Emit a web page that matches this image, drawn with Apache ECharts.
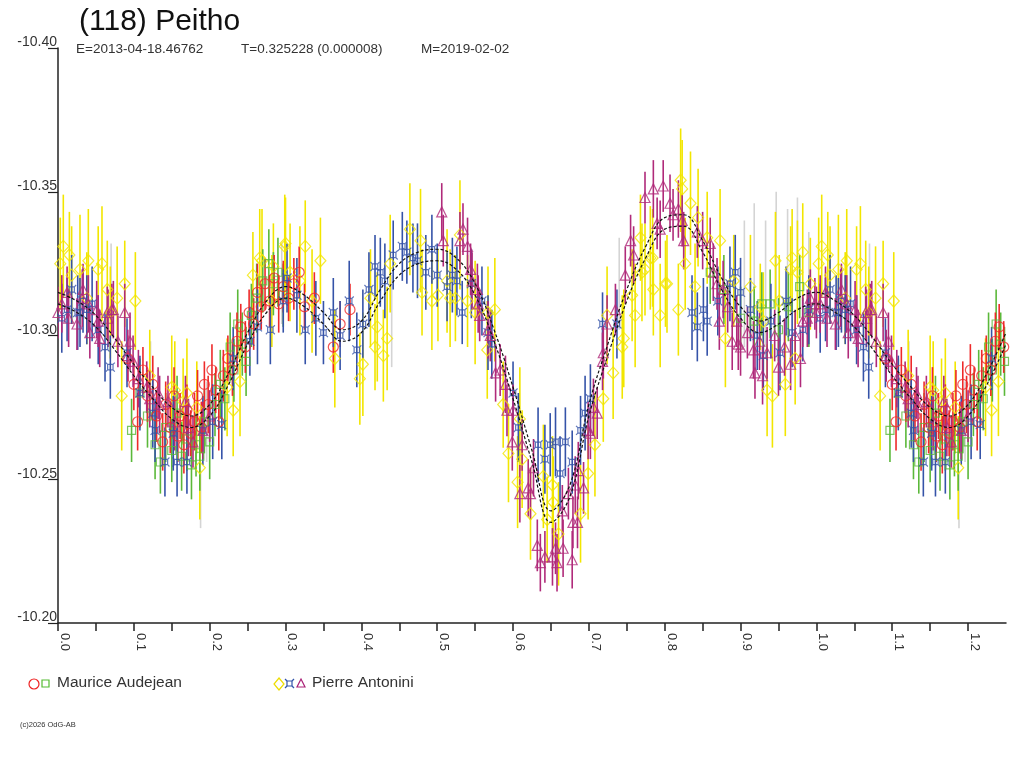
<!DOCTYPE html>
<html>
<head>
<meta charset="utf-8">
<title>(118) Peitho</title>
<script src="https://cdn.jsdelivr.net/npm/echarts/dist/echarts.min.js"></script>
<style>
  html, body { margin: 0; padding: 0; background: #fff; }
  #chart { width: 1024px; height: 768px; }
</style>
</head>
<body>
<div id="chart"></div>
<script>
// [phase, magnitude, error]
var audejeanCircles = [
  [0.092,-10.292,0.008],[0.100,-10.283,0.009],[0.105,-10.270,0.010],[0.112,-10.288,0.008],[0.118,-10.279,0.009],
  [0.125,-10.283,0.010],[0.130,-10.272,0.009],[0.138,-10.263,0.010],[0.142,-10.276,0.008],[0.148,-10.268,0.009],
  [0.153,-10.279,0.010],[0.158,-10.265,0.009],[0.161,-10.272,0.008],[0.166,-10.262,0.010],[0.170,-10.274,0.009],
  [0.175,-10.266,0.008],[0.180,-10.270,0.010],[0.184,-10.279,0.009],[0.189,-10.268,0.009],[0.193,-10.283,0.008],
  [0.198,-10.276,0.010],[0.203,-10.288,0.009],[0.208,-10.281,0.008],[0.212,-10.270,0.010],[0.218,-10.286,0.009],
  [0.224,-10.292,0.008],[0.230,-10.288,0.009],[0.236,-10.298,0.010],[0.241,-10.303,0.008],[0.247,-10.296,0.009],
  [0.252,-10.308,0.008],[0.258,-10.304,0.009],[0.263,-10.315,0.010],[0.268,-10.310,0.008],[0.273,-10.318,0.009],
  [0.279,-10.312,0.009],[0.285,-10.320,0.008],[0.291,-10.311,0.010],[0.297,-10.317,0.009],[0.304,-10.313,0.008],
  [0.311,-10.318,0.009],[0.318,-10.322,0.009],[0.325,-10.310,0.008],[0.338,-10.313,0.009],[0.363,-10.296,0.009],
  [0.372,-10.304,0.008],[0.385,-10.309,0.009]
];
var audejeanSquares = [
  [0.097,-10.267,0.011],[0.108,-10.280,0.012],[0.118,-10.272,0.011],[0.128,-10.262,0.012],[0.135,-10.256,0.011],
  [0.142,-10.268,0.012],[0.150,-10.260,0.011],[0.157,-10.273,0.013],[0.163,-10.258,0.012],[0.170,-10.264,0.011],
  [0.176,-10.255,0.012],[0.182,-10.262,0.011],[0.187,-10.258,0.012],[0.193,-10.270,0.011],[0.200,-10.263,0.013],
  [0.207,-10.276,0.011],[0.214,-10.283,0.012],[0.220,-10.278,0.011],[0.227,-10.296,0.012],[0.232,-10.288,0.011],
  [0.237,-10.304,0.012],[0.243,-10.297,0.011],[0.248,-10.291,0.012],[0.255,-10.307,0.011],[0.262,-10.313,0.012],
  [0.270,-10.319,0.011],[0.278,-10.325,0.012],[0.284,-10.318,0.011],[0.290,-10.322,0.012],[0.297,-10.314,0.011],
  [0.860,-10.322,0.011],[0.878,-10.316,0.012],[0.900,-10.306,0.011],[0.918,-10.305,0.012],[0.928,-10.311,0.011],
  [0.939,-10.311,0.012],[0.950,-10.302,0.011],[0.963,-10.310,0.012],[0.978,-10.317,0.011],[0.990,-10.308,0.012]
];
var antoniniDiamonds = [
  [0.003,-10.325,0.016],[0.007,-10.331,0.018],[0.015,-10.328,0.015],[0.018,-10.321,0.017],[0.029,-10.323,0.019],
  [0.038,-10.313,0.016],[0.040,-10.326,0.018],[0.053,-10.323,0.015],[0.058,-10.325,0.020],[0.065,-10.316,0.017],
  [0.069,-10.308,0.016],[0.078,-10.313,0.018],[0.084,-10.279,0.019],[0.088,-10.318,0.015],[0.102,-10.312,0.017],
  [0.121,-10.286,0.016],[0.150,-10.282,0.018],[0.154,-10.281,0.017],[0.165,-10.277,0.015],[0.170,-10.280,0.019],
  [0.183,-10.275,0.016],[0.187,-10.254,0.018],[0.223,-10.282,0.017],[0.231,-10.274,0.016],[0.240,-10.284,0.019],
  [0.257,-10.321,0.015],[0.266,-10.327,0.017],[0.269,-10.326,0.018],[0.282,-10.312,0.016],[0.284,-10.324,0.015],
  [0.299,-10.331,0.018],[0.300,-10.332,0.016],[0.306,-10.322,0.017],[0.319,-10.319,0.019],[0.326,-10.331,0.016],
  [0.335,-10.312,0.018],[0.346,-10.326,0.015],[0.365,-10.292,0.017],[0.398,-10.285,0.016],[0.402,-10.290,0.018],
  [0.412,-10.313,0.017],[0.418,-10.296,0.015],[0.421,-10.303,0.019],[0.429,-10.293,0.016],[0.434,-10.299,0.018],
  [0.438,-10.325,0.017],[0.464,-10.337,0.016],[0.478,-10.333,0.018],[0.480,-10.315,0.015],[0.493,-10.312,0.017],
  [0.501,-10.314,0.016],[0.513,-10.319,0.018],[0.517,-10.313,0.017],[0.524,-10.313,0.015],[0.530,-10.335,0.019],
  [0.540,-10.312,0.016],[0.550,-10.308,0.018],[0.566,-10.295,0.017],[0.567,-10.308,0.016],[0.576,-10.309,0.018],
  [0.587,-10.276,0.015],[0.594,-10.259,0.017],[0.606,-10.249,0.016],[0.609,-10.271,0.018],[0.612,-10.257,0.017],
  [0.623,-10.238,0.016],[0.640,-10.251,0.018],[0.645,-10.236,0.015],[0.652,-10.248,0.017],[0.653,-10.242,0.016],
  [0.660,-10.231,0.018],[0.689,-10.238,0.017],[0.699,-10.252,0.016],[0.708,-10.262,0.018],[0.719,-10.278,0.015],
  [0.724,-10.307,0.017],[0.732,-10.287,0.016],[0.744,-10.296,0.018],[0.746,-10.299,0.017],[0.757,-10.314,0.016],
  [0.761,-10.307,0.018],[0.768,-10.334,0.015],[0.770,-10.322,0.017],[0.774,-10.323,0.016],[0.781,-10.327,0.018],
  [0.784,-10.327,0.017],[0.785,-10.316,0.016],[0.794,-10.307,0.018],[0.801,-10.318,0.015],[0.803,-10.318,0.017],
  [0.818,-10.309,0.016],[0.821,-10.354,0.018],[0.823,-10.351,0.017],[0.827,-10.325,0.016],[0.834,-10.346,0.018],
  [0.840,-10.317,0.015],[0.844,-10.341,0.017],[0.856,-10.334,0.016],[0.873,-10.333,0.018],[0.880,-10.299,0.017],
  [0.891,-10.319,0.016],[0.913,-10.317,0.018],[0.926,-10.310,0.015],[0.930,-10.305,0.017],[0.935,-10.281,0.016],
  [0.942,-10.279,0.018],[0.946,-10.326,0.017],[0.951,-10.312,0.016],[0.959,-10.283,0.018],[0.966,-10.323,0.015],
  [0.968,-10.327,0.017],[0.972,-10.292,0.016],[0.975,-10.322,0.018],[0.982,-10.329,0.017],[0.992,-10.318,0.016]
];
var antoniniCrossed = [
  [0.005,-10.306,0.012],[0.012,-10.309,0.011],[0.018,-10.316,0.012],[0.026,-10.308,0.013],[0.029,-10.308,0.012],
  [0.033,-10.312,0.011],[0.038,-10.309,0.012],[0.045,-10.311,0.013],[0.053,-10.302,0.012],[0.062,-10.296,0.012],
  [0.069,-10.289,0.011],[0.091,-10.294,0.012],[0.108,-10.280,0.013],[0.125,-10.273,0.012],[0.128,-10.267,0.011],
  [0.141,-10.256,0.012],[0.152,-10.266,0.013],[0.157,-10.256,0.012],[0.170,-10.256,0.011],[0.191,-10.267,0.012],
  [0.204,-10.270,0.013],[0.216,-10.269,0.012],[0.231,-10.292,0.011],[0.253,-10.298,0.012],[0.263,-10.303,0.013],
  [0.280,-10.302,0.012],[0.297,-10.312,0.011],[0.302,-10.320,0.012],[0.315,-10.314,0.013],[0.326,-10.302,0.012],
  [0.340,-10.306,0.013],[0.350,-10.301,0.011],[0.363,-10.308,0.012],[0.372,-10.300,0.012],[0.384,-10.312,0.014],
  [0.394,-10.295,0.013],[0.402,-10.304,0.012],[0.410,-10.316,0.013],[0.418,-10.324,0.011],[0.425,-10.322,0.012],
  [0.431,-10.319,0.013],[0.442,-10.328,0.012],[0.454,-10.331,0.012],[0.460,-10.329,0.011],[0.468,-10.327,0.012],
  [0.474,-10.326,0.013],[0.485,-10.322,0.013],[0.493,-10.330,0.012],[0.500,-10.321,0.011],[0.513,-10.317,0.012],
  [0.520,-10.321,0.013],[0.526,-10.319,0.012],[0.533,-10.308,0.011],[0.545,-10.318,0.012],[0.559,-10.312,0.012],
  [0.567,-10.301,0.013],[0.572,-10.297,0.012],[0.600,-10.280,0.011],[0.607,-10.268,0.012],[0.633,-10.262,0.013],
  [0.642,-10.257,0.012],[0.649,-10.262,0.011],[0.656,-10.263,0.012],[0.662,-10.252,0.013],[0.669,-10.263,0.012],
  [0.678,-10.256,0.011],[0.689,-10.267,0.012],[0.695,-10.273,0.013],[0.702,-10.278,0.012],[0.718,-10.304,0.011],
  [0.737,-10.304,0.012],[0.836,-10.308,0.013],[0.843,-10.303,0.012],[0.851,-10.309,0.011],[0.856,-10.305,0.012],
  [0.870,-10.312,0.012],[0.886,-10.318,0.013],[0.893,-10.322,0.013],[0.900,-10.315,0.012],[0.913,-10.309,0.011],
  [0.922,-10.300,0.012],[0.930,-10.293,0.012],[0.940,-10.305,0.013],[0.952,-10.294,0.013],[0.960,-10.312,0.012],
  [0.968,-10.301,0.012],[0.982,-10.302,0.011],[0.990,-10.309,0.012]
];
var antoniniTriangles = [
  [0.000,-10.308,0.009],[0.005,-10.311,0.010],[0.012,-10.315,0.009],[0.014,-10.306,0.010],[0.025,-10.304,0.009],
  [0.032,-10.313,0.010],[0.033,-10.316,0.009],[0.040,-10.311,0.010],[0.042,-10.301,0.009],[0.051,-10.309,0.010],
  [0.053,-10.305,0.009],[0.055,-10.299,0.010],[0.065,-10.308,0.009],[0.066,-10.306,0.010],[0.071,-10.309,0.009],
  [0.073,-10.309,0.010],[0.079,-10.298,0.009],[0.088,-10.308,0.010],[0.092,-10.293,0.009],[0.095,-10.298,0.010],
  [0.099,-10.291,0.009],[0.106,-10.285,0.010],[0.117,-10.282,0.009],[0.121,-10.278,0.010],[0.132,-10.280,0.009],
  [0.134,-10.276,0.010],[0.145,-10.277,0.009],[0.154,-10.270,0.010],[0.168,-10.277,0.009],[0.172,-10.268,0.010],
  [0.178,-10.263,0.009],[0.191,-10.267,0.010],[0.200,-10.272,0.009],
  [0.506,-10.343,0.010],[0.508,-10.333,0.009],[0.530,-10.333,0.010],[0.534,-10.337,0.009],[0.540,-10.331,0.010],
  [0.544,-10.323,0.009],[0.546,-10.319,0.010],[0.553,-10.316,0.009],[0.554,-10.311,0.010],[0.556,-10.307,0.009],
  [0.567,-10.302,0.010],[0.570,-10.300,0.009],[0.577,-10.287,0.010],[0.583,-10.288,0.009],[0.590,-10.283,0.010],
  [0.592,-10.274,0.009],[0.599,-10.263,0.010],[0.600,-10.274,0.009],[0.609,-10.245,0.010],[0.612,-10.262,0.009],
  [0.620,-10.247,0.010],[0.623,-10.245,0.009],[0.627,-10.254,0.010],[0.632,-10.227,0.009],[0.636,-10.221,0.010],
  [0.642,-10.223,0.009],[0.652,-10.223,0.010],[0.656,-10.226,0.009],[0.658,-10.221,0.010],[0.665,-10.239,0.009],
  [0.666,-10.226,0.010],[0.673,-10.245,0.009],[0.678,-10.222,0.010],[0.679,-10.235,0.009],[0.682,-10.248,0.010],
  [0.685,-10.235,0.009],[0.686,-10.253,0.010],[0.693,-10.247,0.009],[0.699,-10.267,0.010],[0.702,-10.266,0.009],
  [0.706,-10.275,0.010],[0.711,-10.273,0.009],[0.718,-10.291,0.010],[0.719,-10.294,0.009],[0.724,-10.304,0.010],
  [0.735,-10.309,0.009],[0.748,-10.321,0.010],[0.755,-10.333,0.009],[0.759,-10.328,0.010],[0.774,-10.348,0.009],
  [0.785,-10.351,0.010],[0.790,-10.339,0.009],[0.794,-10.337,0.010],[0.798,-10.352,0.009],[0.807,-10.346,0.010],
  [0.811,-10.342,0.009],[0.818,-10.344,0.010],[0.823,-10.340,0.009],[0.825,-10.333,0.010],[0.843,-10.336,0.009],
  [0.850,-10.333,0.010],[0.860,-10.332,0.009],[0.864,-10.322,0.010],[0.869,-10.318,0.009],[0.872,-10.305,0.010],
  [0.877,-10.316,0.010],[0.883,-10.310,0.009],[0.889,-10.298,0.010],[0.895,-10.305,0.009],[0.897,-10.297,0.009],
  [0.900,-10.296,0.010],[0.909,-10.301,0.009],[0.917,-10.295,0.010],[0.919,-10.287,0.009],[0.925,-10.298,0.010],
  [0.929,-10.286,0.010],[0.935,-10.294,0.009],[0.945,-10.300,0.009],[0.950,-10.289,0.010],[0.958,-10.296,0.010],
  [0.966,-10.290,0.009],[0.972,-10.300,0.009],[0.979,-10.292,0.010],[0.982,-10.305,0.009],[0.988,-10.306,0.010],
  [0.992,-10.313,0.010],[0.998,-10.311,0.009]
];
var otherObs = [
  [0.070,-10.318,0.014],[0.122,-10.286,0.012],[0.188,-10.243,0.010],[0.196,-10.270,0.014],[0.295,-10.318,0.014],
  [0.440,-10.305,0.016],[0.740,-10.318,0.016],[0.905,-10.318,0.022],[0.918,-10.326,0.020],[0.933,-10.318,0.022],
  [0.947,-10.330,0.020],[0.962,-10.322,0.022],[0.975,-10.330,0.018],[0.990,-10.316,0.020]
];

// fitted light curve, upper and lower envelope
var fitPhase = [0,0.025,0.05,0.075,0.1,0.125,0.15,0.175,0.2,0.225,0.25,0.275,0.3,0.325,0.35,0.375,0.4,0.425,0.45,0.475,
  0.5,0.525,0.55,0.575,0.6,0.625,0.65,0.675,0.7,0.725,0.75,0.775,0.8,0.825,0.85,0.875,0.9,0.925,0.95,0.975,
  1.0,1.025,1.05,1.075,1.1,1.125,1.15,1.175,1.2,1.225,1.25];
var fitUpper = [-10.315,-10.312,-10.307,-10.299,-10.290,-10.282,-10.275,-10.272,-10.276,-10.287,-10.301,-10.312,-10.317,-10.314,-10.308,-10.302,-10.305,-10.316,-10.325,-10.329,
  -10.330,-10.327,-10.318,-10.302,-10.282,-10.260,-10.239,-10.248,-10.276,-10.297,-10.316,-10.331,-10.341,-10.342,-10.333,-10.320,-10.310,-10.305,-10.308,-10.313,
  -10.315,-10.312,-10.307,-10.299,-10.290,-10.282,-10.275,-10.272,-10.276,-10.287,-10.301];
var fitLower = [-10.311,-10.308,-10.303,-10.295,-10.286,-10.278,-10.271,-10.268,-10.272,-10.283,-10.297,-10.308,-10.313,-10.310,-10.304,-10.298,-10.301,-10.312,-10.321,-10.325,
  -10.326,-10.323,-10.314,-10.298,-10.278,-10.256,-10.235,-10.244,-10.272,-10.293,-10.312,-10.327,-10.337,-10.338,-10.329,-10.316,-10.306,-10.301,-10.304,-10.309,
  -10.311,-10.308,-10.303,-10.295,-10.286,-10.278,-10.271,-10.268,-10.272,-10.283,-10.297];

var magTicks = [-10.40, -10.35, -10.30, -10.25, -10.20];

// phases up to 0.25 are shown a second time after 1.0
function wrap(arr) {
  var out = arr.slice();
  arr.forEach(function (d) {
    if (d[0] <= 0.25) out.push([d[0] + 1, d[1], d[2]]);
  });
  return out;
}

var font = 'Liberation Sans, Arial, sans-serif';

function errBars(data, color) {
  return {
    type: 'custom',
    silent: true,
    clip: true,
    data: wrap(data),
    encode: { x: 0, y: 1 },
    renderItem: function (params, api) {
      var x = api.value(0), y = api.value(1), e = api.value(2);
      var a = api.coord([x, y - e]);
      var b = api.coord([x, y + e]);
      return {
        type: 'line',
        shape: { x1: a[0], y1: a[1], x2: b[0], y2: b[1] },
        style: { stroke: color, lineWidth: 1.6 }
      };
    }
  };
}

function marks(data, color, symbol, size) {
  return {
    type: 'scatter',
    silent: true,
    data: wrap(data),
    symbol: symbol,
    symbolSize: size,
    itemStyle: { color: 'rgba(0,0,0,0)', borderColor: color, borderWidth: 1.2 }
  };
}

function fitLine(ys) {
  return {
    type: 'line',
    silent: true,
    smooth: 0.4,
    showSymbol: false,
    data: fitPhase.map(function (p, i) { return [p, ys[i]]; }),
    lineStyle: { color: '#111', width: 1.2, type: [3, 2] },
    z: 5
  };
}

var crossSquare = 'path://M2,2L8,2L8,8L2,8ZM0,0L2,2M10,0L8,2M10,10L8,8M0,10L2,8';

var legendFont = '15.5px ' + font;

var chart = echarts.init(document.getElementById('chart'));
chart.setOption({
  animation: false,
  backgroundColor: '#fff',
  grid: { left: 58, right: 18, top: 48, bottom: 145 },
  xAxis: {
    type: 'value',
    min: 0,
    max: 1.25,
    interval: 0.05,
    splitLine: { show: false },
    axisLine: { lineStyle: { color: '#222', width: 1.5 } },
    axisTick: { length: 8, lineStyle: { color: '#222', width: 1.5 } },
    axisLabel: {
      rotate: -90,
      margin: 10,
      align: 'left',
      verticalAlign: 'bottom',
      color: '#333',
      fontFamily: font,
      fontSize: 13,
      showMaxLabel: false,
      formatter: function (v) {
        var h = Math.round(v * 100);
        return h % 10 === 0 ? (h / 100).toFixed(1) : '';
      }
    }
  },
  yAxis: {
    type: 'value',
    inverse: true,
    min: magTicks[0],
    max: magTicks[magTicks.length - 1],
    interval: 0.05,
    splitLine: { show: false },
    axisLine: { lineStyle: { color: '#222', width: 1.5 } },
    axisTick: { length: 10, lineStyle: { color: '#222', width: 1.2 } },
    axisLabel: {
      margin: 1,
      align: 'right',
      verticalAlign: 'bottom',
      lineHeight: 11,
      color: '#333',
      fontFamily: font,
      fontSize: 14,
      formatter: function (v) { return v.toFixed(2); }
    }
  },
  title: [
    { text: '(118) Peitho', left: 74, top: 2,
      textStyle: { fontFamily: font, fontSize: 30, fontWeight: 'normal', color: '#111' } }
  ],
  graphic: [
    { type: 'text', x: 76, y: 42, style: { text: 'E=2013-04-18.46762', font: '13.5px ' + font, fill: '#333' } },
    { type: 'text', x: 241, y: 42, style: { text: 'T=0.325228 (0.000008)', font: '13.5px ' + font, fill: '#333' } },
    { type: 'text', x: 421, y: 42, style: { text: 'M=2019-02-02', font: '13.5px ' + font, fill: '#333' } },
    { type: 'circle', shape: { cx: 34, cy: 684, r: 5 }, style: { fill: 'none', stroke: '#ee2222', lineWidth: 1.2 } },
    { type: 'rect', shape: { x: 42, y: 680, width: 7, height: 7 }, style: { fill: 'none', stroke: '#55bb33', lineWidth: 1.2 } },
    { type: 'text', x: 57, y: 675, style: { text: 'Maurice Audejean', font: legendFont, fill: '#333' } },
    { type: 'polygon', shape: { points: [[279, 678], [284, 684], [279, 690], [274, 684]] }, style: { fill: 'none', stroke: '#eedd00', lineWidth: 1.2 } },
    { type: 'rect', shape: { x: 287, y: 681, width: 5, height: 5 }, style: { fill: 'none', stroke: '#3355aa', lineWidth: 1.2 } },
    { type: 'polyline', shape: { points: [[285, 679], [287, 681]] }, style: { stroke: '#3355aa', lineWidth: 1.2 } },
    { type: 'polyline', shape: { points: [[294, 679], [292, 681]] }, style: { stroke: '#3355aa', lineWidth: 1.2 } },
    { type: 'polyline', shape: { points: [[294, 688], [292, 686]] }, style: { stroke: '#3355aa', lineWidth: 1.2 } },
    { type: 'polyline', shape: { points: [[285, 688], [287, 686]] }, style: { stroke: '#3355aa', lineWidth: 1.2 } },
    { type: 'polygon', shape: { points: [[301, 679], [305, 687], [297, 687]] }, style: { fill: 'none', stroke: '#aa2277', lineWidth: 1.2 } },
    { type: 'text', x: 312, y: 675, style: { text: 'Pierre Antonini', font: legendFont, fill: '#333' } },
    { type: 'text', x: 20, y: 721, style: { text: '(c)2026 OdG-AB', font: '7.5px ' + font, fill: '#333' } }
  ],
  series: [
    errBars(otherObs, '#d4d4d4'),
    errBars(antoniniDiamonds, '#f2e600'),
    marks(antoniniDiamonds, '#f2e600', 'diamond', [11, 12]),
    errBars(audejeanSquares, '#5bb83a'),
    marks(audejeanSquares, '#5bb83a', 'rect', 8),
    errBars(audejeanCircles, '#ee2a2a'),
    marks(audejeanCircles, '#ee2a2a', 'circle', 10),
    errBars(antoniniCrossed, '#3553a8'),
    marks(antoniniCrossed, '#3553a8', crossSquare, 9),
    errBars(antoniniTriangles, '#b02a7a'),
    marks(antoniniTriangles, '#b02a7a', 'triangle', 10),
    fitLine(fitUpper),
    fitLine(fitLower)
  ]
});
</script>
</body>
</html>
